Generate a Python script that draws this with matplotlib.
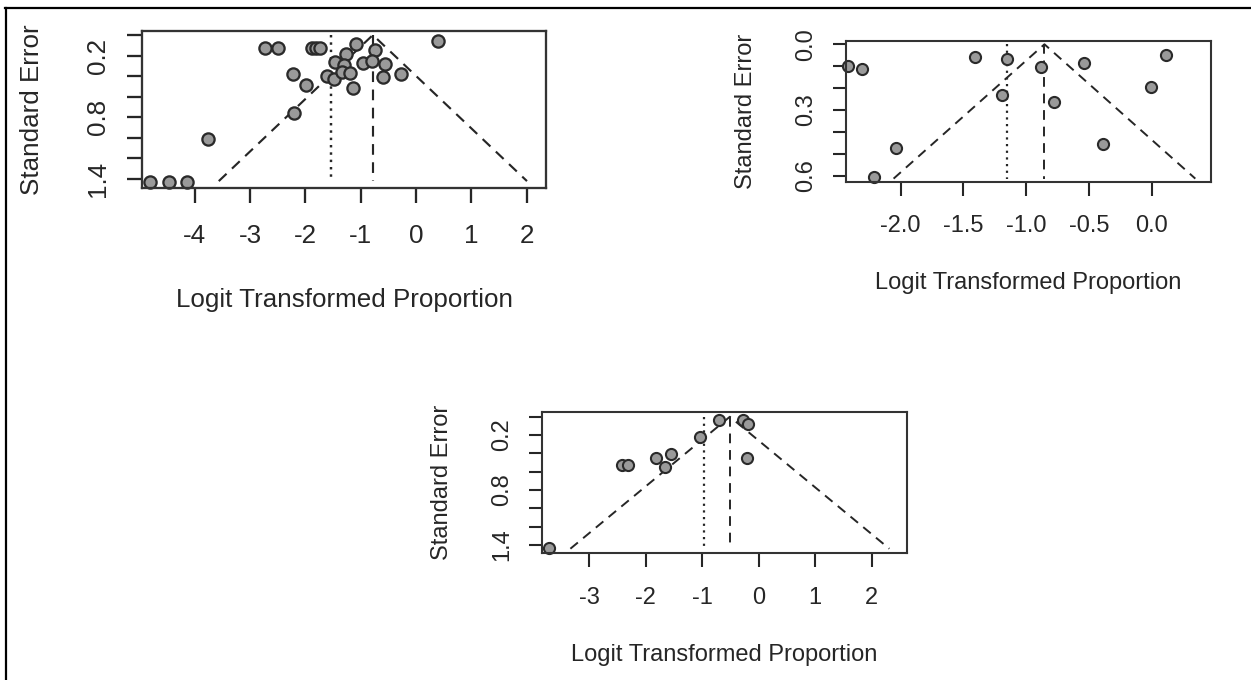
# -*- coding: utf-8 -*-
# Funnel plots: logit transformed proportion vs standard error (three panels)
import matplotlib
matplotlib.use("Agg")
import matplotlib.pyplot as plt
from matplotlib.lines import Line2D

plt.rcParams["font.family"] = ["Liberation Sans", "DejaVu Sans"]

# %%
# Data
# panel A (top left)
a_logit = [-2.73, -2.49, -1.88, -1.80, -1.73, -1.09, 0.39, -0.75, -1.27, -1.46,
           -0.95, -0.80, -0.56, -1.30, -2.22, -1.98, -1.61, -1.49, -1.34, -1.19,
           -1.13, -0.60, -0.28, -2.21, -3.75, -4.81, -4.46, -4.13]
a_se = [0.13, 0.13, 0.13, 0.13, 0.13, 0.087, 0.055, 0.146, 0.185, 0.259,
        0.275, 0.255, 0.28, 0.29, 0.375, 0.486, 0.40, 0.43, 0.356, 0.366,
        0.518, 0.405, 0.38, 0.755, 1.014, 1.425, 1.425, 1.425]
a_est, a_adj, a_semax = -0.78, -1.54, 1.42
a_yticks = [0.0, 0.2, 0.4, 0.6, 0.8, 1.0, 1.2, 1.4]
a_ylabels = ["", "0.2", "", "", "0.8", "", "", "1.4"]
a_xticks = [-4, -3, -2, -1, 0, 1, 2]

# panel B (top right)
b_logit = [-2.42, -2.31, -1.41, -1.15, -0.88, -0.54, 0.116, -0.006, -1.19,
           -0.777, -2.04, -0.39, -2.21]
b_se = [0.099, 0.114, 0.056, 0.069, 0.105, 0.087, 0.049, 0.196, 0.231,
        0.262, 0.475, 0.455, 0.605]
b_est, b_adj, b_semax = -0.855, -1.15, 0.613
b_yticks = [0.0, 0.1, 0.2, 0.3, 0.4, 0.5, 0.6]
b_ylabels = ["0.0", "", "", "0.3", "", "", "0.6"]
b_xticks = [-2.0, -1.5, -1.0, -0.5, 0.0]

# panel C (bottom)
c_logit = [-0.70, -0.28, -0.19, -1.04, -1.82, -1.55, -1.66, -2.41, -2.32,
           -0.20, -3.71]
c_se = [0.036, 0.036, 0.08, 0.225, 0.447, 0.41, 0.552, 0.527, 0.527,
        0.454, 1.435]
c_est, c_adj, c_semax = -0.51, -0.97, 1.44
c_yticks = a_yticks
c_ylabels = a_ylabels
c_xticks = [-3, -2, -1, 0, 1, 2]

# %%
W, H = 1251, 680
fig = plt.figure(figsize=(W / 100, H / 100), dpi=100)
fig.patch.set_facecolor("white")

# outer frame (top and left edges only)
fig.add_artist(Line2D([5 / W, 1.0], [1 - 8 / H, 1 - 8 / H], color="black", lw=1.6))
fig.add_artist(Line2D([6 / W, 6 / W], [0.0, 1 - 8 / H], color="black", lw=1.6))

ink = "#262626"


def funnel(rect, xs, ys, est, adj, semax, xlim, ylim, xticks, yticks, ylabels,
           xfmt, s=1.0):
    ax = fig.add_axes(rect)
    # funnel
    ax.plot([est - 1.96 * semax, est, est + 1.96 * semax], [semax, 0, semax],
            color=ink, lw=1.4 * s, ls=(0, (5, 3.5)))
    ax.plot([est, est], [0, semax], color=ink, lw=1.4 * s, ls=(0, (5, 3.5)))
    ax.plot([adj, adj], [0, semax], color=ink, lw=1.6 * s, ls=(0, (1, 2)))
    ax.plot(xs, ys, ls="none", marker="o", ms=8.0 * s, mfc="#9a9a9a",
            mec="#2a2a2a", mew=1.5 * s, clip_on=False)
    ax.set_xlim(xlim)
    ax.set_ylim(ylim)
    ax.set_xticks(xticks)
    ax.set_xticklabels([xfmt.format(v) for v in xticks])
    ax.set_yticks(yticks)
    ax.set_yticklabels(ylabels, rotation=90, va="center")
    for sp in ax.spines.values():
        sp.set_color("#333333")
        sp.set_linewidth(1.5 * s)
    ax.tick_params(axis="x", direction="out", length=10 * s, width=1.5 * s,
                   pad=14 * s, labelsize=17 * s, colors=ink)
    ax.tick_params(axis="y", direction="out", length=9.7 * s, width=1.5 * s,
                   pad=11 * s, labelsize=17 * s, colors=ink)
    ax.text(0.5, -0.718, "Logit Transformed Proportion", transform=ax.transAxes,
            ha="center", va="center", fontsize=17 * s, color=ink)
    ax.text(-0.273, 0.5, "Standard Error", transform=ax.transAxes, rotation=90,
            ha="center", va="center", fontsize=17 * s, color=ink)
    return ax


funnel([142.1 / W, 1 - 187.7 / H, 404.3 / W, 156.7 / H], a_logit, a_se,
       a_est, a_adj, a_semax, (-4.948, 2.354), (1.484, -0.039),
       a_xticks, a_yticks, a_ylabels, "{:g}", s=1.1)

funnel([845.8 / W, 1 - 181.7 / H, 365.4 / W, 141.0 / H], b_logit, b_se,
       b_est, b_adj, b_semax, (-2.437, 0.473), (0.627, -0.0164),
       b_xticks, b_yticks, b_ylabels, "{:.1f}")

funnel([541.7 / W, 1 - 553.3 / H, 365.0 / W, 141.6 / H], c_logit, c_se,
       c_est, c_adj, c_semax, (-3.84, 2.62), (1.49, -0.055),
       c_xticks, c_yticks, c_ylabels, "{:g}")

plt.savefig("out.png", dpi=100, facecolor="white")
